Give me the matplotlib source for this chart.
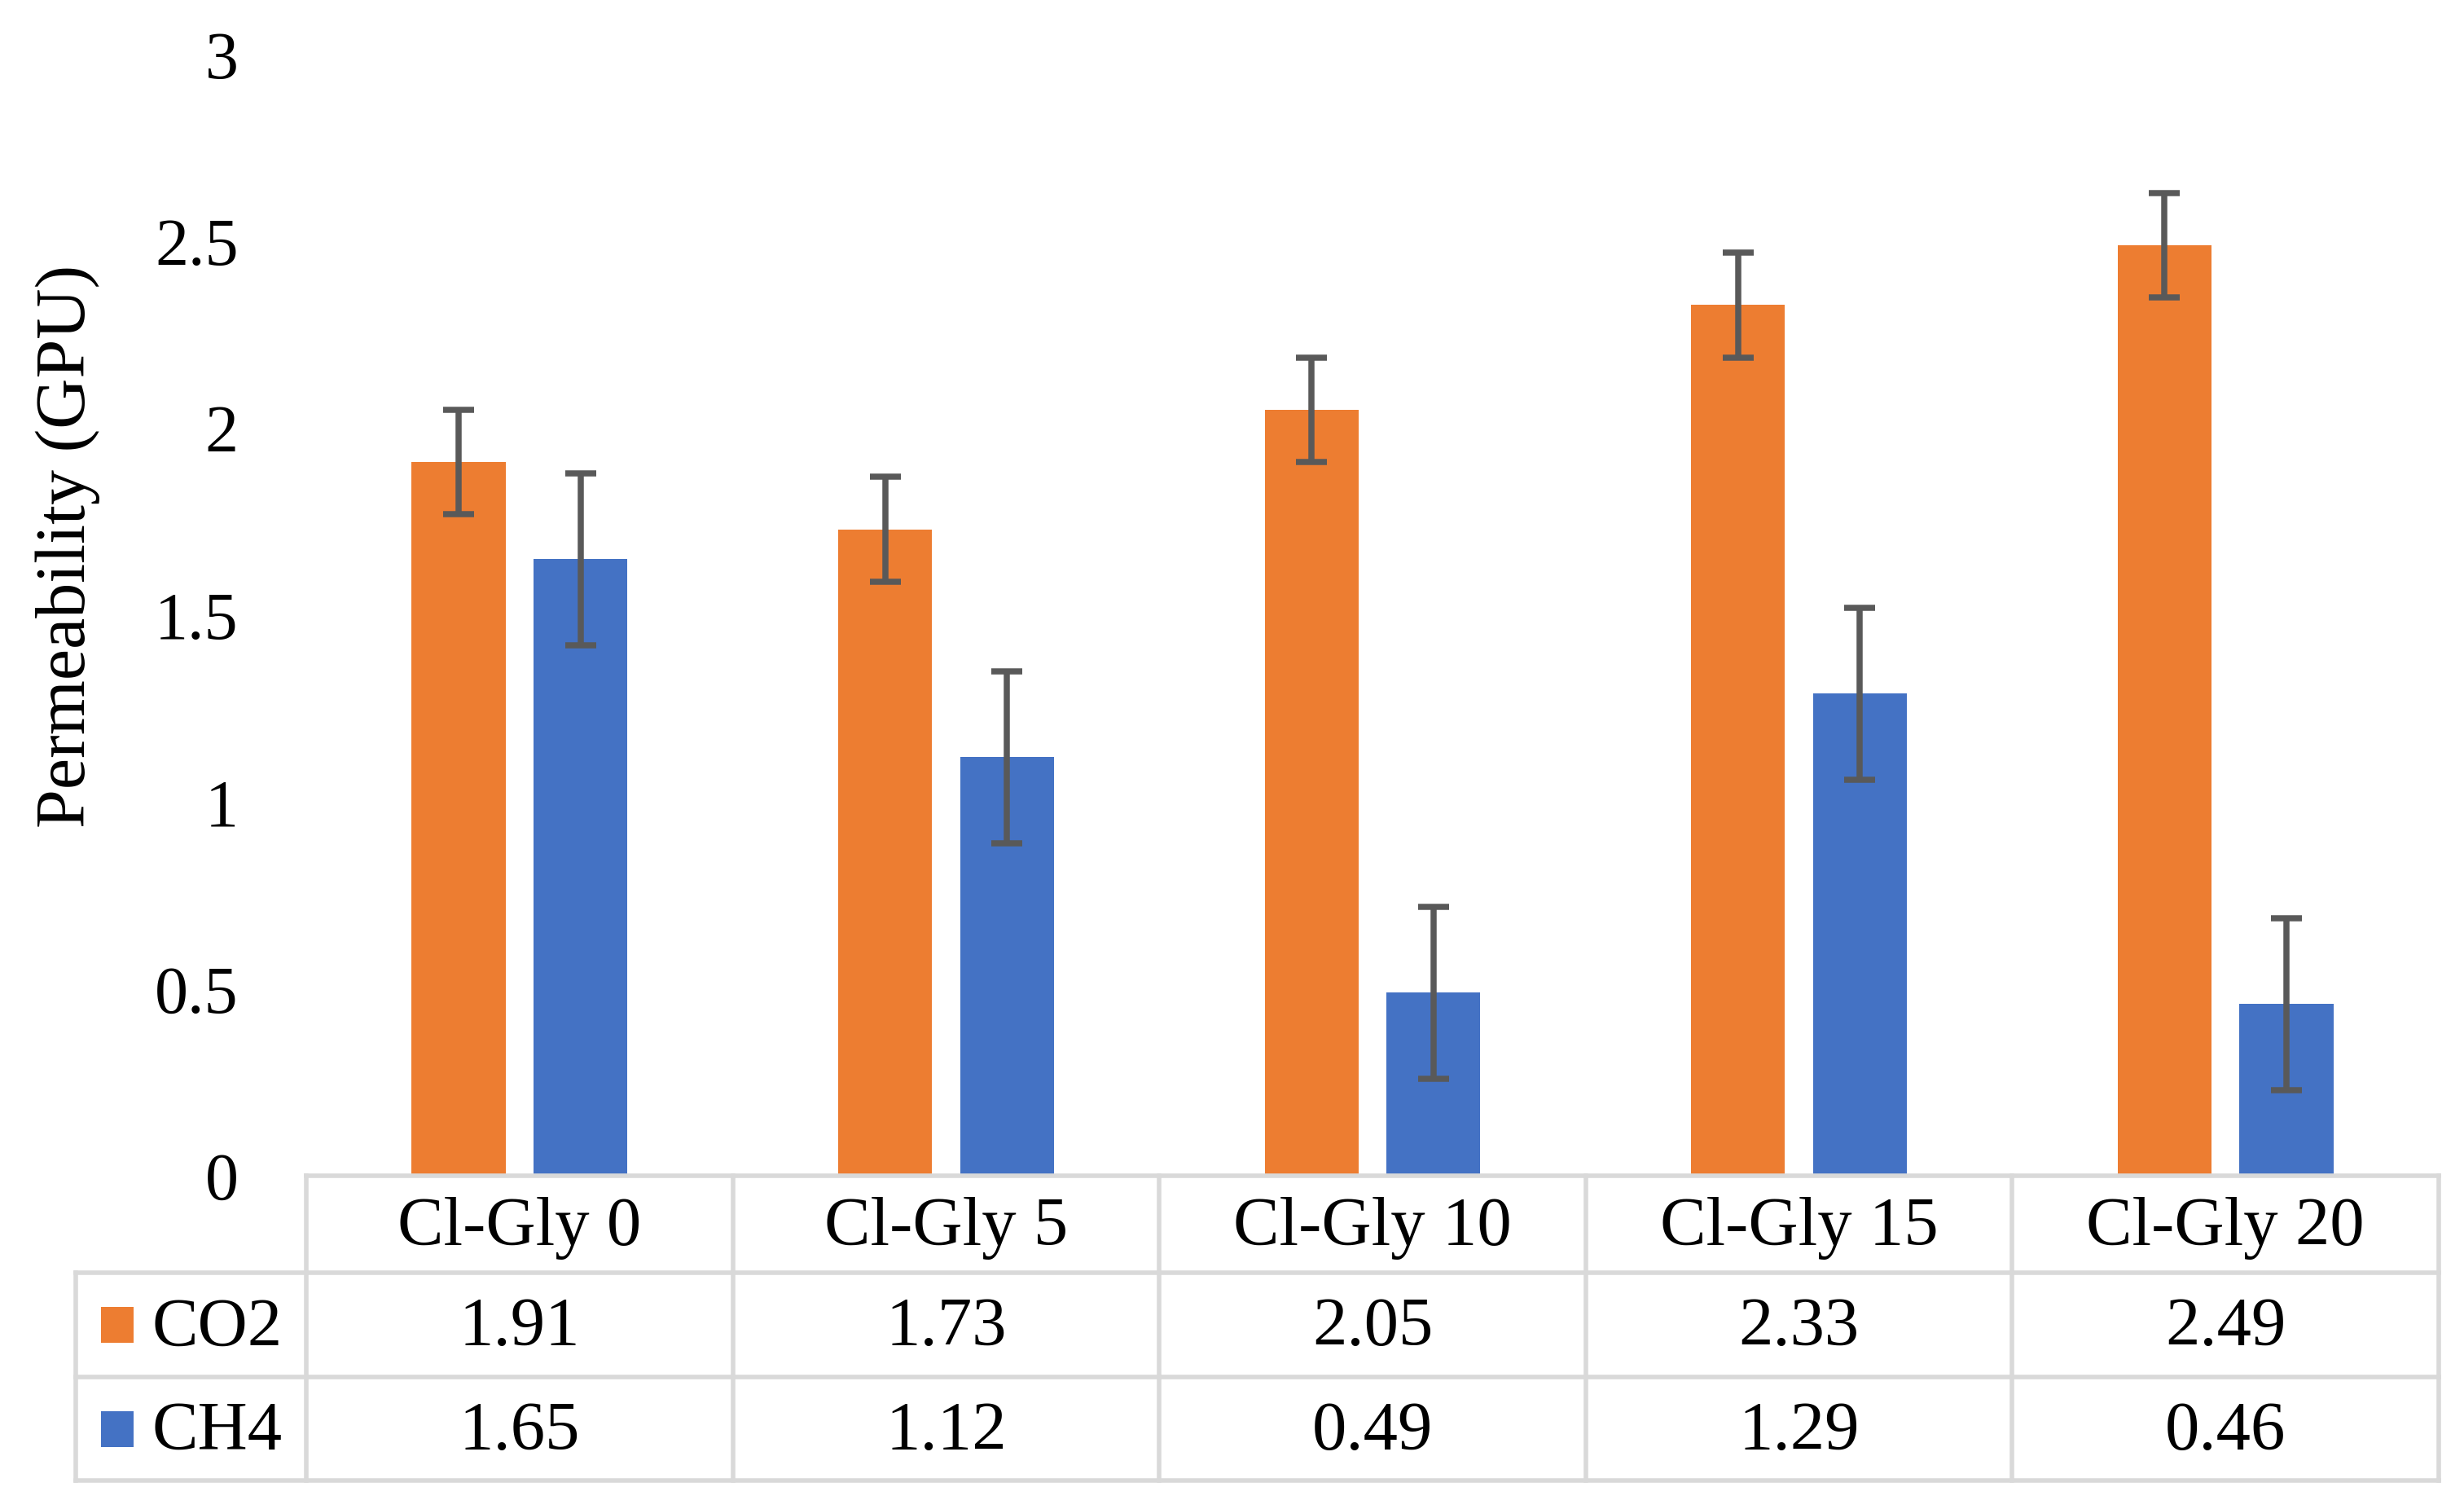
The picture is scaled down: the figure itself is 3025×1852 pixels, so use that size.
import matplotlib
matplotlib.use("Agg")
import matplotlib.pyplot as plt
from matplotlib.patches import Rectangle

categories = ["Cl-Gly 0", "Cl-Gly 5", "Cl-Gly 10", "Cl-Gly 15", "Cl-Gly 20"]
series_names = ["CO2", "CH4"]
co2 = [1.91, 1.73, 2.05, 2.33, 2.49]
ch4 = [1.65, 1.12, 0.49, 1.29, 0.46]
co2_err = [0.14, 0.14, 0.14, 0.14, 0.14]
ch4_err = [0.23, 0.23, 0.23, 0.23, 0.23]
yticks = [0, 0.5, 1, 1.5, 2, 2.5, 3]
ytick_labels = ["0", "0.5", "1", "1.5", "2", "2.5", "3"]
colors = ["#ED7D31", "#4472C4"]

plt.rcParams['font.family'] = ['Liberation Serif', 'DejaVu Serif']

W, H = 3025, 1852
fig = plt.figure(figsize=(W / 200, H / 200), dpi=200)
left_px, right_px, top_px, bottom_px = 376, 2994, 67, 1443
ax = fig.add_axes([left_px / W, 1 - bottom_px / H, (right_px - left_px) / W, (bottom_px - top_px) / H])

x = list(range(len(categories)))
bw = 0.22
off = 0.143
ekw = dict(ecolor="#595959", elinewidth=2.7, capsize=7, capthick=2.7)
ax.bar([i - off for i in x], co2, width=bw, color=colors[0], yerr=co2_err, error_kw=ekw, zorder=2)
ax.bar([i + off for i in x], ch4, width=bw, color=colors[1], yerr=ch4_err, error_kw=ekw, zorder=2)

ax.set_xlim(-0.5, len(categories) - 0.5)
ax.set_ylim(0, 3)
ax.set_yticks(yticks)
ax.set_yticklabels(ytick_labels, fontsize=29.5)
ax.set_xticks([])
ax.tick_params(axis='y', length=0, pad=30)
for s in ax.spines.values():
    s.set_visible(False)

fig.text(83 / W, 1 - 670 / H, "Permeability (GPU)", rotation=90, ha='center', va='center', fontsize=31)

# data table below the axis
ah = bottom_px - top_px
rows_y = [0, -(1562 - bottom_px) / ah, -(1690 - bottom_px) / ah, -(1817 - bottom_px) / ah]
leg_left = (93 - left_px) / (right_px - left_px)
lc = "#D9D9D9"
lw = 2.0
xt = ax.get_xaxis_transform()
ax.plot([0, 1], [rows_y[0], rows_y[0]], transform=ax.transAxes, color=lc, lw=lw, clip_on=False)
for yy in rows_y[1:]:
    ax.plot([leg_left, 1], [yy, yy], transform=ax.transAxes, color=lc, lw=lw, clip_on=False)
for i in range(len(categories) + 1):
    xv = i - 0.5
    ax.plot([xv, xv], [rows_y[0], rows_y[3]], transform=xt, color=lc, lw=lw, clip_on=False)
ax.plot([leg_left, leg_left], [rows_y[1], rows_y[3]], transform=ax.transAxes, color=lc, lw=lw, clip_on=False)

fs = 30.5
dy = -5 / ah
hy = (rows_y[0] + rows_y[1]) / 2 + dy
for i, c in enumerate(categories):
    ax.text(i, hy, c, transform=xt, ha='center', va='center', fontsize=fs)
vals = [co2, ch4]
for r in range(2):
    cy = (rows_y[r + 1] + rows_y[r + 2]) / 2
    for i in range(len(categories)):
        ax.text(i, cy + dy, f"{vals[r][i]:.2f}", transform=xt, ha='center', va='center', fontsize=fs)
    sq_w = 40 / (right_px - left_px)
    sq_h = 44 / ah
    sx = (124 - left_px) / (right_px - left_px)
    ax.add_patch(Rectangle((sx, cy - sq_h / 2), sq_w, sq_h, transform=ax.transAxes,
                           facecolor=colors[r], edgecolor='none', clip_on=False))
    ax.text((187 - left_px) / (right_px - left_px), cy + dy, series_names[r], transform=ax.transAxes,
            ha='left', va='center', fontsize=fs)

fig.savefig("out.png", dpi=200, facecolor='white')
